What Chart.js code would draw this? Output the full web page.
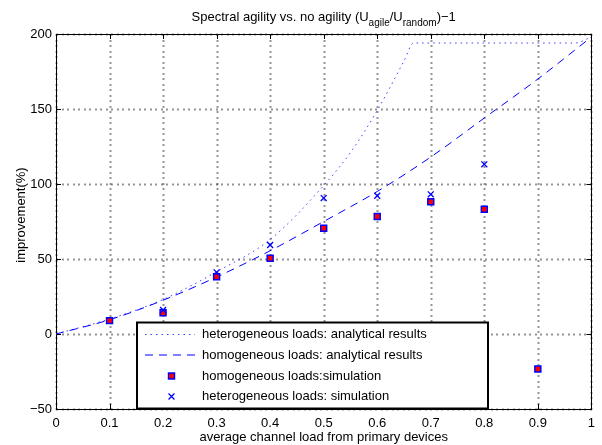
<!DOCTYPE html>
<html>
<head>
<meta charset="utf-8">
<title>Spectral agility vs. no agility</title>
<script src="https://cdn.jsdelivr.net/npm/chart.js@4.4.1/dist/chart.umd.min.js"></script>
<style>
  html, body { margin: 0; padding: 0; background: #ffffff; }
  #wrap { width: 602px; height: 445px; }
</style>
</head>
<body>
<div id="wrap"><canvas id="c" width="602" height="445"></canvas></div>
<script>
// Average channel load from primary devices
const loadAnalytic = [0, 0.1, 0.2, 0.3, 0.4, 0.5, 0.6, 0.7, 0.8, 0.9, 1.0];
// Homogeneous loads, analytical improvement (%)
const homoAnalytic = [0, 9.5, 22.5, 38, 55.5, 75, 95, 118, 144, 170, 198];

// Heterogeneous loads, analytical improvement (%) (saturates near 194)
const heteroAnalyticLoad = [0, 0.1, 0.2, 0.3, 0.4, 0.5, 0.55, 0.6, 0.65, 0.668, 0.97, 1.0];
const heteroAnalytic     = [0, 10, 23, 41.5, 63, 99, 121, 149, 182, 194, 194, 198];

// Simulation results
const loadSim     = [0.1, 0.2, 0.3, 0.4, 0.5, 0.6, 0.7, 0.8, 0.9];
const homoSim     = [8.9, 14.2, 38.2, 50.5, 70.5, 78.3, 88.2, 83.2, -23.3];
const heteroSim   = [null, 16, 41.1, 59.3, 90.6, 92.2, 93.1, 113.1, null];

// Axis ticks
const xTicks = [0, 0.1, 0.2, 0.3, 0.4, 0.5, 0.6, 0.7, 0.8, 0.9, 1];
const xTickLabels = ['0', '0.1', '0.2', '0.3', '0.4', '0.5', '0.6', '0.7', '0.8', '0.9', '1'];
const yTicks = [-50, 0, 50, 100, 150, 200];
const yTickLabels = ['\u221250', '0', '50', '100', '150', '200'];

const legendLabels = [
  'heterogeneous loads: analytical results',
  'homogeneous loads: analytical results',
  'homogeneous loads:simulation',
  'heterogeneous loads: simulation'
];

const FONT = "'Liberation Sans', Arial, Helvetica, sans-serif";

function pts(xs, ys) {
  const out = [];
  xs.forEach((x, i) => { if (ys[i] !== null) out.push({ x: x, y: ys[i] }); });
  return out;
}

const styles = {
  dotted: { color: '#4040ff', dash: [1.5, 4] },
  dashed: { color: '#0000ff', dash: [8, 6] }
};

// Dotted grid, frame, inward tick marks, title and axis titles
const framePlugin = {
  id: 'frame',
  beforeDatasetsDraw(chart) {
    const { ctx, chartArea: a } = chart;
    const xs = chart.scales.x, ys = chart.scales.y;
    ctx.save();
    // grid: small dots every few pixels along each tick position
    ctx.fillStyle = 'rgba(0,0,0,0.42)';
    const step = 5.5;
    xTicks.forEach(v => {
      const px = Math.round(xs.getPixelForValue(v));
      for (let y = a.top; y <= a.bottom; y += step) ctx.fillRect(px - 0.5, Math.round(y), 2, 2);
    });
    yTicks.forEach(v => {
      const py = Math.round(ys.getPixelForValue(v));
      for (let x = a.left; x <= a.right; x += step) ctx.fillRect(Math.round(x), py - 0.5, 2, 2);
    });
    // ticks and frame
    ctx.strokeStyle = '#000';
    ctx.lineWidth = 1;
    ctx.setLineDash([]);
    ctx.beginPath();
    const tl = 5;
    xTicks.forEach(v => {
      const px = Math.round(xs.getPixelForValue(v)) + 0.5;
      ctx.moveTo(px, a.bottom); ctx.lineTo(px, a.bottom - tl);
      ctx.moveTo(px, a.top); ctx.lineTo(px, a.top + tl);
    });
    yTicks.forEach(v => {
      const py = Math.round(ys.getPixelForValue(v)) + 0.5;
      ctx.moveTo(a.left, py); ctx.lineTo(a.left + tl, py);
      ctx.moveTo(a.right, py); ctx.lineTo(a.right - tl, py);
    });
    ctx.stroke();
    ctx.strokeRect(Math.round(a.left) + 0.5, Math.round(a.top) + 0.5,
                   Math.round(a.right - a.left), Math.round(a.bottom - a.top));
    ctx.restore();
  },
  afterDraw(chart) {
    const { ctx, chartArea: a } = chart;
    ctx.save();
    ctx.fillStyle = '#000';
    // Title with subscripts
    const big = '13px ' + FONT, small = '10px ' + FONT;
    const parts = [
      ['Spectral agility vs. no agility (U', big, 0],
      ['agile', small, 5],
      ['/U', big, 0],
      ['random', small, 5],
      [')\u22121', big, 0]
    ];
    let total = 0;
    parts.forEach(p => { ctx.font = p[1]; total += ctx.measureText(p[0]).width; });
    let x = (a.left + a.right) / 2 - total / 2;
    ctx.textBaseline = 'alphabetic';
    ctx.textAlign = 'left';
    parts.forEach(p => {
      ctx.font = p[1];
      ctx.fillText(p[0], x, 21 + p[2]);
      x += ctx.measureText(p[0]).width;
    });
    // Axis titles
    ctx.font = '13px ' + FONT;
    ctx.textAlign = 'center';
    ctx.textBaseline = 'middle';
    ctx.fillText('average channel load from primary devices', (a.left + a.right) / 2, 437);
    ctx.translate(21, 215);
    ctx.rotate(-Math.PI / 2);
    ctx.fillText('improvement(%)', 0, 0);
    ctx.restore();
  }
};

// Boxed legend in the lower part of the plot
const boxLegendPlugin = {
  id: 'boxLegend',
  afterDatasetsDraw(chart) {
    const { ctx } = chart;
    const L = 137, T = 322.5, W = 351, H = 86;
    ctx.save();
    ctx.fillStyle = '#fff';
    ctx.fillRect(L, T, W, H);
    ctx.strokeStyle = '#000';
    ctx.lineWidth = 2;
    ctx.setLineDash([]);
    ctx.strokeRect(L, T, W, H);
    const rowY = [334.5, 355, 376, 396.5];
    const ds = chart.data.datasets;
    // line samples
    ctx.lineWidth = 1;
    ctx.strokeStyle = styles.dotted.color;
    ctx.setLineDash(styles.dotted.dash);
    ctx.beginPath(); ctx.moveTo(145, rowY[0]); ctx.lineTo(195, rowY[0]); ctx.stroke();
    ctx.strokeStyle = styles.dashed.color;
    ctx.setLineDash(styles.dashed.dash);
    ctx.beginPath(); ctx.moveTo(145, rowY[1]); ctx.lineTo(197, rowY[1]); ctx.stroke();
    ctx.setLineDash([]);
    // marker samples
    const sq = ds[2], cr = ds[3];
    ctx.fillStyle = sq.pointBackgroundColor; ctx.strokeStyle = sq.pointBorderColor;
    ctx.lineWidth = sq.pointBorderWidth;
    const s = sq.pointRadius * Math.SQRT1_2;
    ctx.fillRect(171.5 - s, rowY[2] - s, 2 * s, 2 * s);
    ctx.strokeRect(171.5 - s, rowY[2] - s, 2 * s, 2 * s);
    ctx.strokeStyle = cr.pointBorderColor; ctx.lineWidth = cr.pointBorderWidth;
    const c = cr.pointRadius * Math.SQRT1_2;
    ctx.beginPath();
    ctx.moveTo(171.5 - c, rowY[3] - c); ctx.lineTo(171.5 + c, rowY[3] + c);
    ctx.moveTo(171.5 - c, rowY[3] + c); ctx.lineTo(171.5 + c, rowY[3] - c);
    ctx.stroke();
    // labels
    ctx.fillStyle = '#000';
    ctx.font = '13px ' + FONT;
    ctx.textAlign = 'left';
    ctx.textBaseline = 'middle';
    legendLabels.forEach((t, i) => ctx.fillText(t, 202, rowY[i]));
    ctx.restore();
  }
};

new Chart(document.getElementById('c'), {
  type: 'line',
  data: {
    datasets: [
      {
        label: legendLabels[0],
        data: pts(heteroAnalyticLoad, heteroAnalytic),
        borderColor: styles.dotted.color,
        borderDash: styles.dotted.dash,
        borderWidth: 1,
        pointRadius: 0,
        fill: false,
        cubicInterpolationMode: 'monotone',
        order: 3
      },
      {
        label: legendLabels[1],
        data: pts(loadAnalytic, homoAnalytic),
        borderColor: styles.dashed.color,
        borderDash: styles.dashed.dash,
        borderWidth: 1,
        pointRadius: 0,
        fill: false,
        cubicInterpolationMode: 'monotone',
        order: 2
      },
      {
        label: legendLabels[2],
        data: pts(loadSim, homoSim),
        showLine: false,
        pointStyle: 'rect',
        pointRadius: 4.2,
        pointBorderWidth: 1.5,
        pointBackgroundColor: '#ff0000',
        pointBorderColor: '#0000ff',
        order: 1
      },
      {
        label: legendLabels[3],
        data: pts(loadSim, heteroSim),
        showLine: false,
        pointStyle: 'crossRot',
        pointRadius: 4.2,
        pointBorderWidth: 1.3,
        pointBorderColor: '#0000ff',
        pointBackgroundColor: '#0000ff',
        order: 0
      }
    ]
  },
  options: {
    responsive: false,
    devicePixelRatio: 1,
    animation: false,
    layout: { padding: { top: 34, right: 9, bottom: 0, left: 0 } },
    plugins: {
      legend: { display: false },
      title: { display: false },
      tooltip: { enabled: false }
    },
    scales: {
      x: {
        type: 'linear',
        min: 0,
        max: 1,
        afterFit(scale) { scale.height = 36; },
        afterBuildTicks(scale) { scale.ticks = xTicks.map(v => ({ value: v })); },
        ticks: {
          autoSkip: false,
          maxRotation: 0,
          padding: 7,
          color: '#000',
          font: { family: FONT, size: 13 },
          callback: (v, i) => xTickLabels[i]
        },
        grid: { display: false, drawTicks: false },
        border: { display: false }
      },
      y: {
        type: 'linear',
        min: -50,
        max: 200,
        afterFit(scale) { scale.width = 56; },
        afterBuildTicks(scale) { scale.ticks = yTicks.map(v => ({ value: v })); },
        ticks: {
          autoSkip: false,
          padding: 4,
          color: '#000',
          font: { family: FONT, size: 13 },
          callback: (v, i) => yTickLabels[i]
        },
        grid: { display: false, drawTicks: false },
        border: { display: false }
      }
    }
  },
  plugins: [framePlugin, boxLegendPlugin]
});
</script>
</body>
</html>
